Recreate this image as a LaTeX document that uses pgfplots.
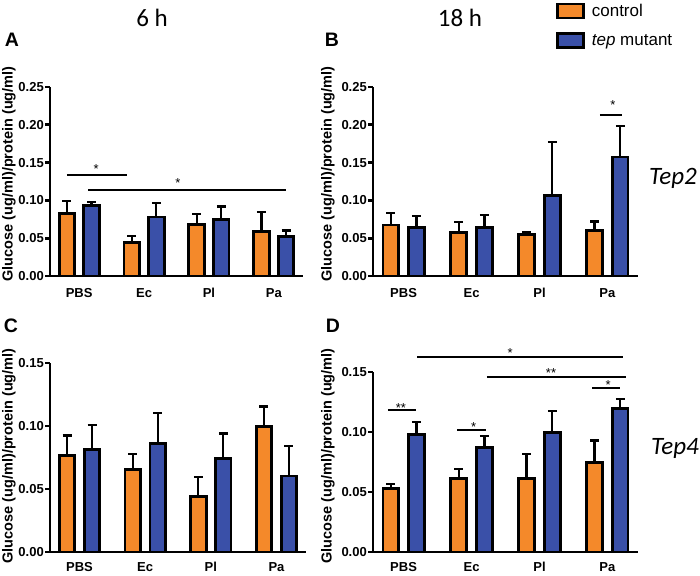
\documentclass[border=0pt]{standalone}
\usepackage{fontspec}
\setmainfont{Liberation Sans}
\newfontfamily\calibri{Carlito}
\usepackage{pgfplots}
\pgfplotsset{compat=1.18}
\definecolor{orangeC}{HTML}{F4892A}
\definecolor{blueC}{HTML}{3A50A8}
\pgfplotsset{
 panel/.style={
  scale only axis, anchor=south west,
  xmin=-0.45, xmax=3.45, ymin=0,
  axis x line*=bottom, axis y line*=left,
  axis line style={line width=2.8pt, black, -},
  xtick={0,1,2,3}, xticklabels={PBS,Ec,Pl,Pa},
  xtick style={draw=none},
  ytick style={line width=2.8pt, black},
  tick align=outside, major tick length=5pt,
  xticklabel style={font=\bfseries\fontsize{13}{13}\selectfont, yshift=-4pt},
  yticklabel style={font=\bfseries\fontsize{13}{13}\selectfont, inner sep=1pt},
  /pgf/number format/.cd, fixed, fixed zerofill, precision=2, assume math mode=true, /pgfplots/.cd,
  scaled y ticks=false,
  clip=false,
 },
 obar/.style={ybar, bar width=15.5pt, bar shift=0pt, fill=orangeC, draw=black, line width=2.8pt,
   error bars/.cd, y dir=plus, y explicit, error bar style={line width=2.2pt, black}, error mark options={rotate=90, mark size=4.5pt, line width=2.2pt, black}},
 bbar/.style={ybar, bar width=15.5pt, bar shift=0pt, fill=blueC, draw=black, line width=2.8pt,
   error bars/.cd, y dir=plus, y explicit, error bar style={line width=2.2pt, black}, error mark options={rotate=90, mark size=4.5pt, line width=2.2pt, black}},
}
\tikzset{
 sig/.style={line width=2pt, black},
 ast/.style={font=\fontsize{13}{13}\selectfont, anchor=base, yshift=-7.5pt, inner sep=0pt},
 ylab/.style={rotate=90, font=\bfseries\fontsize{14.5}{14.5}\selectfont},
 letter/.style={font=\bfseries\fontsize{19.5}{19.5}\selectfont},
}
\begin{document}
\begin{tikzpicture}
\path[use as bounding box] (0pt,0pt) rectangle (700pt,575pt);
% Panel A
\begin{axis}[panel, at={(50pt,299pt)}, width=253pt, height=189pt, ymax=0.25, ytick={0,0.05,0.10,0.15,0.20,0.25}]
\addplot[obar] coordinates {(-0.19,0.083) +- (0,0.0157) (0.81,0.0445) +- (0,0.0079) (1.81,0.0685) +- (0,0.014) (2.81,0.059) +- (0,0.0253)};
\addplot[bbar] coordinates {(0.19,0.0935) +- (0,0.0045) (1.19,0.078) +- (0,0.0185) (2.19,0.0745) +- (0,0.0175) (3.19,0.052) +- (0,0.0083)};
\draw[sig] (axis cs:-0.19,0.1336) -- (axis cs:0.73,0.1336);
\node[ast] at (axis cs:0.26,0.145) {*};
\draw[sig] (axis cs:0.14,0.1144) -- (axis cs:3.19,0.1144);
\node[ast] at (axis cs:1.52,0.1275) {*};
\end{axis}
% Panel B
\begin{axis}[panel, at={(373pt,299pt)}, width=265pt, height=189pt, ymax=0.25, ytick={0,0.05,0.10,0.15,0.20,0.25},
  legend style={at={(axis description cs:0.69,1.45)}, anchor=north west, draw=none, fill=none, inner sep=0pt,
    font=\fontsize{17}{17}\selectfont, row sep=12pt, cells={anchor=west}},
  legend image code/.code={\draw[#1] (0pt,-7pt) rectangle (26pt,7pt); \path (31pt,0pt);}]
\addlegendimage{fill=orangeC, draw=black, line width=2.8pt}
\addlegendentry{control}
\addlegendimage{fill=blueC, draw=black, line width=2.8pt}
\addlegendentry{\textit{tep} mutant}
\addplot[obar] coordinates {(-0.19,0.0675) +- (0,0.0163) (0.81,0.0575) +- (0,0.0137) (1.81,0.0545) +- (0,0.0031) (2.81,0.060) +- (0,0.012)};
\addplot[bbar] coordinates {(0.19,0.064) +- (0,0.0155) (1.19,0.0645) +- (0,0.0167) (2.19,0.107) +- (0,0.0699) (3.19,0.1575) +- (0,0.0405)};
\draw[sig] (axis cs:2.89,0.2135) -- (axis cs:3.21,0.2135);
\node[ast] at (axis cs:3.08,0.2297) {*};
\end{axis}
% Panel C
\begin{axis}[panel, at={(50pt,23pt)}, width=256pt, height=189pt, ymax=0.15, ytick={0,0.05,0.10,0.15}, xticklabel style={yshift=2pt}]
\addplot[obar] coordinates {(-0.19,0.0764) +- (0,0.016) (0.81,0.0653) +- (0,0.0126) (1.81,0.0443) +- (0,0.0154) (2.81,0.0998) +- (0,0.0157)};
\addplot[bbar] coordinates {(0.19,0.0816) +- (0,0.0189) (1.19,0.0858) +- (0,0.0247) (2.19,0.074) +- (0,0.02) (3.19,0.0603) +- (0,0.0239)};
\end{axis}
% Panel D
\begin{axis}[panel, at={(373pt,23pt)}, width=265pt, height=180pt, ymax=0.15, ytick={0,0.05,0.10,0.15}, xticklabel style={yshift=2pt}]
\addplot[obar] coordinates {(-0.19,0.0528) +- (0,0.0041) (0.81,0.0611) +- (0,0.0079) (1.81,0.0611) +- (0,0.0208) (2.81,0.0748) +- (0,0.0181)};
\addplot[bbar] coordinates {(0.19,0.0982) +- (0,0.01) (1.19,0.0872) +- (0,0.0095) (2.19,0.0998) +- (0,0.0178) (3.19,0.1193) +- (0,0.0082)};
\draw[sig] (axis cs:-0.23,0.1181) -- (axis cs:0.18,0.1181);
\node[ast] at (axis cs:-0.04,0.1228) {**};
\draw[sig] (axis cs:0.79,0.1016) -- (axis cs:1.21,0.1016);
\node[ast] at (axis cs:1.03,0.1069) {*};
\draw[sig] (axis cs:2.78,0.1363) -- (axis cs:3.18,0.1363);
\node[ast] at (axis cs:3.01,0.1415) {*};
\draw[sig] (axis cs:1.225,0.1462) -- (axis cs:3.276,0.1462);
\node[ast] at (axis cs:2.17,0.1516) {**};
\draw[sig] (axis cs:0.20,0.1621) -- (axis cs:3.227,0.1621);
\node[ast] at (axis cs:1.57,0.1687) {*};
\end{axis}
% labels
\node[ylab] at (9pt,401pt) {Glucose (ug/ml)/protein (ug/ml)};
\node[ylab] at (328pt,401pt) {Glucose (ug/ml)/protein (ug/ml)};
\node[ylab] at (9pt,119pt) {Glucose (ug/ml)/protein (ug/ml)};
\node[ylab] at (328pt,119pt) {Glucose (ug/ml)/protein (ug/ml)};
\node[letter] at (12pt,535pt) {A};
\node[letter] at (332pt,535pt) {B};
\node[letter] at (11pt,249pt) {C};
\node[letter] at (333pt,249pt) {D};
\node[font=\calibri\fontsize{25}{25}\selectfont] at (152pt,557pt) {6 h};
\node[font=\calibri\fontsize{25}{25}\selectfont] at (460pt,557pt) {18 h};
\node[font=\calibri\itshape\fontsize{25}{25}\selectfont] at (673pt,397pt) {Tep2};
\node[font=\calibri\itshape\fontsize{25}{25}\selectfont] at (675pt,127pt) {Tep4};
\end{tikzpicture}
\end{document}
